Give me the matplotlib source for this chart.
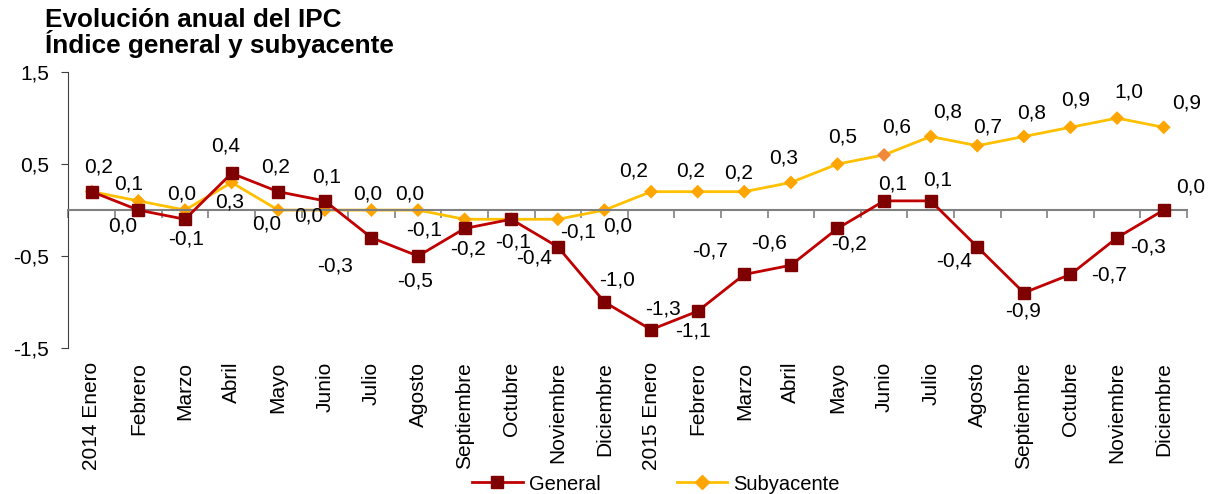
import matplotlib
matplotlib.use("Agg")
import matplotlib.pyplot as plt

plt.rcParams['font.family'] = ['Liberation Sans', 'DejaVu Sans']

months = ['Enero', 'Febrero', 'Marzo', 'Abril', 'Mayo', 'Junio', 'Julio',
          'Agosto', 'Septiembre', 'Octubre', 'Noviembre', 'Diciembre']
labels = ['2014 Enero'] + months[1:] + ['2015 Enero'] + months[1:]

general = [0.2, 0.0, -0.1, 0.4, 0.2, 0.1, -0.3, -0.5, -0.2, -0.1, -0.4, -1.0,
           -1.3, -1.1, -0.7, -0.6, -0.2, 0.1, 0.1, -0.4, -0.9, -0.7, -0.3, 0.0]
subyacente = [0.2, 0.1, 0.0, 0.3, 0.0, 0.0, 0.0, 0.0, -0.1, -0.1, -0.1, 0.0,
              0.2, 0.2, 0.2, 0.3, 0.5, 0.6, 0.8, 0.7, 0.8, 0.9, 1.0, 0.9]

# label offsets in pixels (dx, dy with y up); None = label hidden under the other series
off_gen = [(7, 25), (-16, -16), (1, -20), (-6, 27), (-3, 25), (2, 24), (-36, -28),
           (-3, -25), (3, -21), (2, -23), (-24, -11), (13, 22),
           (12, 21), (-5, -20), (-34, 23), (-22, 22), (12, -16), (9, 17), (7, 21),
           (-23, -14), (-1, -18), (39, -1), (31, -9), (27, 23)]
off_sub = [None, (-10, 17), (-3, 16), (-2, -20), (-12, -14), (-16, -6), (-4, 16),
           (-8, 16), (-41, -11), None, (20, -13), (13, -16),
           (-17, 21), (-7, 21), (-6, 19), (-7, 24), (5, 27), (13, 28), (17, 25),
           (10, 19), (8, 24), (5, 27), (12, 26), (23, 24)]

red_line = '#C00000'
red_mark = '#7F0000'
gold_line = '#FFC000'
gold_mark = '#FFA500'
fs = 15

fig = plt.figure(figsize=(12.1, 4.94), dpi=100)
ax = fig.add_axes([0.0566, 0.2955, 0.9244, 0.5585])

x = list(range(len(labels)))
ax.plot(x, general, color=red_line, lw=2, marker='s', ms=9,
        mfc=red_mark, mec=red_mark, label='General', zorder=3)
sub_colors = [gold_mark] * len(x)
sub_colors[17] = '#F08A3A'
ax.plot(x, subyacente, color=gold_line, lw=2, label='Subyacente', zorder=2)
ax.scatter(x, subyacente, marker='D', s=50, c=sub_colors, zorder=2.5, linewidths=0)

def fmt(v):
    return ('%.1f' % v).replace('.', ',')

for vals, offs in [(general, off_gen), (subyacente, off_sub)]:
    for xi, v, o in zip(x, vals, offs):
        if o is None:
            continue
        ax.annotate(fmt(v), (xi, v), xytext=o, textcoords='offset pixels',
                    ha='center', va='center', fontsize=fs)

ax.set_xlim(-0.5, len(x) - 0.5)
ax.set_ylim(-1.5, 1.5)
ax.set_yticks([-1.5, -0.5, 0.5, 1.5])
ax.set_yticklabels([fmt(t) for t in [-1.5, -0.5, 0.5, 1.5]])
ax.tick_params(axis='y', direction='out', length=5, color='#404040',
               labelsize=fs, pad=9)

for s in ['top', 'right']:
    ax.spines[s].set_visible(False)
ax.spines['left'].set_color('#404040')
ax.spines['bottom'].set_position(('data', 0))
ax.spines['bottom'].set_color('#808080')
ax.spines['bottom'].set_linewidth(1.5)
ax.set_xticks([i - 0.5 for i in range(len(x) + 1)])
ax.tick_params(axis='x', direction='out', length=6, color='#808080',
               width=1.2, labelbottom=False)

sec = ax.secondary_xaxis('bottom')
sec.set_xticks(x)
sec.set_xticklabels(labels, rotation=90, fontsize=fs)
sec.tick_params(length=0, pad=10)
sec.spines['bottom'].set_visible(False)

fig.text(45 / 1210, 1 - 53 / 494,
         'Evolución anual del IPC\nÍndice general y subyacente',
         fontsize=18.8, fontweight='bold', va='baseline', ha='left',
         linespacing=0.92)

h1 = plt.Line2D([], [], color=red_line, lw=2, marker='s', ms=9,
                mfc=red_mark, mec=red_mark)
h2 = plt.Line2D([], [], color=gold_line, lw=2, marker='D', ms=7,
                mfc=gold_mark, mec=gold_mark)
fig.legend([h1, h2], ['General', 'Subyacente'], loc='center',
           bbox_to_anchor=(656 / 1210, 1 - 484 / 494), ncol=2, frameon=False,
           fontsize=14.5, handlelength=2.5, handletextpad=0.3,
           columnspacing=3.8, borderpad=0)

fig.savefig('out.png', dpi=100)
